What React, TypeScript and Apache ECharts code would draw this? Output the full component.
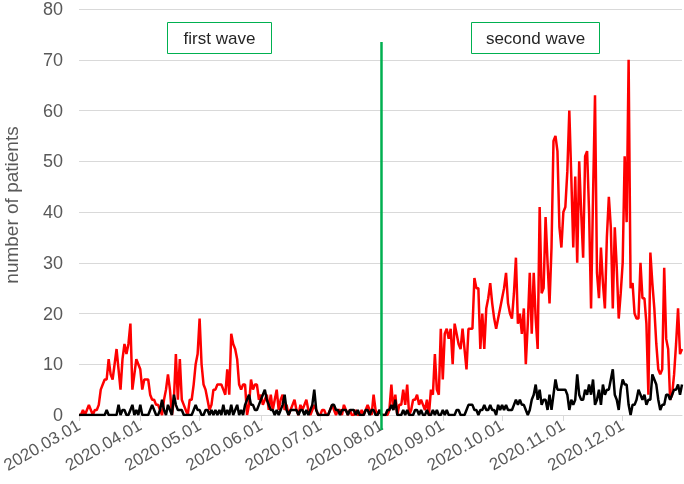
import React, { useEffect, useRef } from "react";
import * as echarts from "echarts";

// Daily values, 2020.03.01 – 2020.12.31
const redMar = [0,0,1,0,1,2,1,0,1,1,2,5,6,7,7,11,8,7,10,13,9,5,11,14,12,14,18,5,8,11,10];
const redApr = [9,5,7,7,7,4,3,3,2,2,1,0,3,5,8,5,0,3,12,3,11,3,2,1,0,3,3,6,10,12];
const redMay = [19,10,6,5,3,1,2,5,5,6,6,6,5,4,9,4,16,14,13,11,6,5,6,6,0,2,7,5,6,6,3];
const redJun = [4,2,3,4,1,4,1,3,5,1,3,4,1,2,0,1,2,3,1,0,2,1,2,3,1,0,1,2,1,0];
const redJul = [0,1,1,0,0,1,2,1,0,1,1,0,2,1,0,1,0,0,1,0,0,1,0,1,2,1,0,4,1,0,1];
const redAug = [0,0,0,0,1,6,1,4,0,2,2,5,2,6,0,1,3,3,4,2,3,2,1,3,0,5,4,12,5,4,17];
const redSep = [7,16,17,15,17,10,18,16,14,13,17,13,9,17,17,17,27,25,25,13,20,13,21,23,26,22,19,17,19,21];
const redOct = [23,25,28,22,20,19,24,31,18,20,16,21,10,18,28,16,28,19,13,41,24,25,39,30,22,33,54,55,52,37,33];
const redNov = [40,41,48,60,47,33,47,30,50,40,31,51,52,40,21,43,63,28,23,33,26,21,35,43,37,21,37,29,19,24];
const redDec = [30,51,38,70,25,26,20,19,19,30,23,23,18,4,32,26,21,14,9,8,9,29,15,13,3,4,8,14,21,12,13];

const blackMar = [0,0,0,0,0,0,0,0,0,0,0,0,0,0,1,0,0,0,0,0,2,0,1,1,0,0,1,2,0,1,0];
const blackApr = [2,0,0,0,0,1,2,1,0,0,1,3,1,0,2,1,0,4,2,1,1,1,0,0,0,0,0,1,2,1];
const blackMay = [1,0,0,1,1,0,1,0,1,0,1,0,2,0,1,0,2,0,1,2,0,1,0,2,3,4,2,2,1,1,2];
const blackJun = [3,4,5,3,2,1,1,0,1,0,1,2,4,1,0,1,1,1,1,0,1,1,0,1,0,1,2,5,1,0];
const blackJul = [0,0,0,0,0,1,2,2,1,1,0,1,1,1,0,1,1,1,0,1,0,0,0,1,1,0,1,1,0,0,1];
const blackAug = [0,0,0,1,1,2,1,3,0,0,0,1,0,1,0,0,0,1,1,0,1,0,0,1,0,0,1,0,1,0,0];
const blackSep = [1,0,1,0,0,0,0,1,1,0,0,0,1,2,2,2,1,1,0,1,1,2,1,1,2,1,1,0,2,1];
const blackOct = [2,1,2,1,1,1,2,3,2,3,2,2,1,0,1,3,4,6,3,5,2,3,3,1,4,1,4,7,5,5,5];
const blackNov = [5,5,4,1,3,2,3,8,4,3,3,5,4,6,4,7,2,3,5,2,6,4,5,5,7,9,4,3,1,5];
const blackDec = [7,6,6,2,0,2,2,3,5,4,3,4,2,3,3,8,7,6,3,1,2,2,4,4,3,4,5,5,6,4,6];

const tickLabels = [
  "2020.03.01", "2020.04.01", "2020.05.01", "2020.06.01", "2020.07.01",
  "2020.08.01", "2020.09.01", "2020.10.01", "2020.11.01", "2020.12.01",
];
const waveSplit = "2020.08.01";
const waveLabels = ["first wave", "second wave"];
const yTitle = "number of patients";

const red = [...redMar, ...redApr, ...redMay, ...redJun, ...redJul, ...redAug, ...redSep, ...redOct, ...redNov, ...redDec];
const black = [...blackMar, ...blackApr, ...blackMay, ...blackJun, ...blackJul, ...blackAug, ...blackSep, ...blackOct, ...blackNov, ...blackDec];

function buildDates(n: number): string[] {
  const out: string[] = [];
  const start = Date.UTC(2020, 2, 1);
  for (let i = 0; i < n; i++) {
    const d = new Date(start + i * 86400000);
    const m = String(d.getUTCMonth() + 1).padStart(2, "0");
    const day = String(d.getUTCDate()).padStart(2, "0");
    out.push(`${d.getUTCFullYear()}.${m}.${day}`);
  }
  return out;
}
const dates = buildDates(red.length);

const FONT = "'Liberation Sans', Arial, Helvetica, sans-serif";
const GREEN = "#00b050";

export default function App() {
  const ref = useRef<HTMLDivElement>(null);
  useEffect(() => {
    if (!ref.current) return;
    const chart = echarts.init(ref.current, undefined, { renderer: "svg" });
    const isTick = (_i: number, v: string) => tickLabels.includes(v);
    chart.setOption({
      animation: false,
      textStyle: { fontFamily: FONT },
      grid: { left: 79, right: 2, top: 9, bottom: 69, containLabel: false, outerBoundsMode: "none" },
      xAxis: {
        type: "category",
        data: dates,
        boundaryGap: false,
        axisLine: { show: true, lineStyle: { color: "#d9d9d9", width: 1 } },
        axisTick: { show: true, interval: isTick, length: 6, lineStyle: { color: "#d9d9d9" } },
        axisLabel: { interval: isTick, rotate: 30, fontSize: 17, color: "#595959", margin: 9, fontFamily: FONT },
        splitLine: { show: false },
      },
      yAxis: {
        type: "value",
        min: 0,
        max: 80,
        interval: 10,
        axisLine: { show: false },
        axisTick: { show: false },
        axisLabel: { fontSize: 18, color: "#595959", margin: 16, fontFamily: FONT },
        splitLine: { lineStyle: { color: "#d9d9d9", width: 1 } },
        name: yTitle,
        nameLocation: "middle",
        nameGap: 58,
        nameTextStyle: { fontSize: 19, color: "#595959", fontFamily: FONT, padding: [0, 0, 0, 14] },
      },
      series: [
        {
          type: "line",
          data: red,
          symbol: "none",
          lineStyle: { color: "#ff0000", width: 2.5 },
          itemStyle: { color: "#ff0000" },
          z: 2,
        },
        {
          type: "line",
          data: black,
          symbol: "none",
          lineStyle: { color: "#000000", width: 2.5 },
          itemStyle: { color: "#000000" },
          z: 3,
        },
      ],
    });
    const x = chart.convertToPixel({ xAxisIndex: 0 }, waveSplit) as number;
    chart.setOption({
      graphic: [
        {
          type: "line",
          z: 100,
          shape: { x1: x, y1: 42, x2: x, y2: 430 },
          style: { stroke: GREEN, lineWidth: 2.5 },
        },
        {
          type: "group",
          z: 100,
          children: [
            { type: "rect", shape: { x: 167.5, y: 22.5, width: 104, height: 31 }, style: { fill: "#ffffff", stroke: GREEN, lineWidth: 1 } },
            { type: "text", x: 219.5, y: 38, style: { text: waveLabels[0], fontSize: 17, fill: "#262626", align: "center", verticalAlign: "middle", fontFamily: FONT } },
            { type: "rect", shape: { x: 471.5, y: 22.5, width: 128, height: 31 }, style: { fill: "#ffffff", stroke: GREEN, lineWidth: 1 } },
            { type: "text", x: 535.5, y: 38, style: { text: waveLabels[1], fontSize: 17, fill: "#262626", align: "center", verticalAlign: "middle", fontFamily: FONT } },
          ],
        },
      ],
    });
    return () => chart.dispose();
  }, []);
  return <div ref={ref} style={{ position: "fixed", left: 0, top: 0, width: 684, height: 484 }} />;
}
